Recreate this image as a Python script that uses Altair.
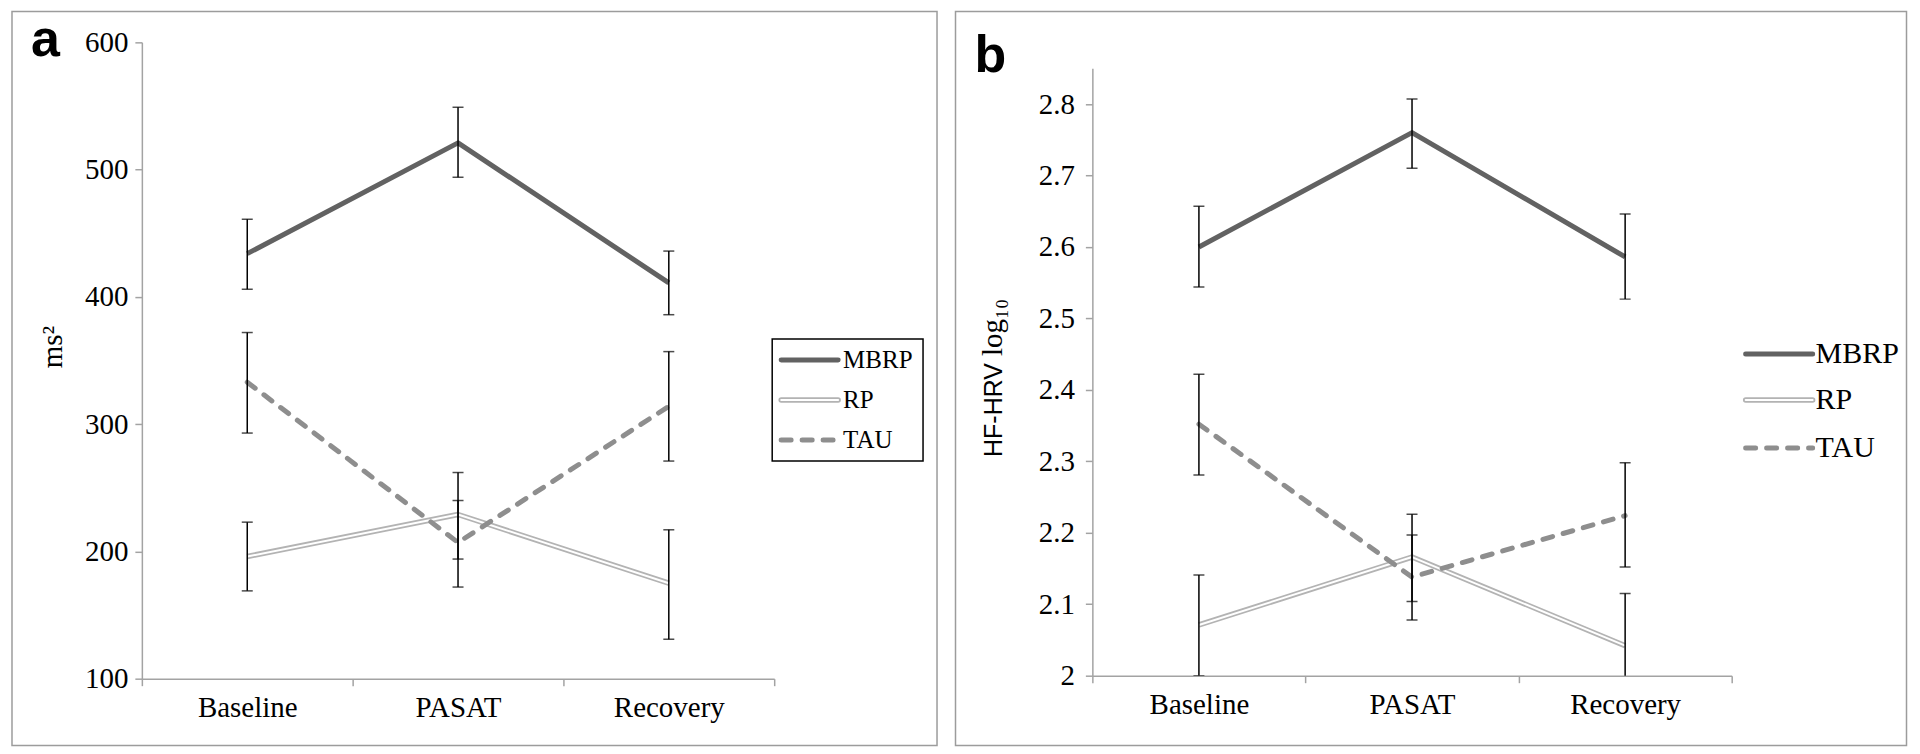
import altair as alt
import pandas as pd

categories = ["Baseline", "PASAT", "Recovery"]
series_names = ["MBRP", "RP", "TAU"]

# Panel a: ms^2
a_mbrp = [434, 521, 411]
a_mbrp_low = [406, 494, 386]
a_mbrp_high = [461, 549, 436]
a_rp = [196, 229, 175]
a_rp_low = [169, 172, 131]
a_rp_high = [223, 262, 217]
a_tau = [333, 207, 314]
a_tau_low = [293, 194, 271]
a_tau_high = [372, 240, 357]
a_ticks = [100, 200, 300, 400, 500, 600]

# Panel b: HF-HRV log10
b_mbrp = [2.600, 2.760, 2.586]
b_mbrp_low = [2.544, 2.710, 2.527]
b_mbrp_high = [2.657, 2.807, 2.646]
b_rp = [2.071, 2.166, 2.042]
b_rp_low = [2.000, 2.104, 1.970]
b_rp_high = [2.141, 2.226, 2.115]
b_tau = [2.352, 2.138, 2.224]
b_tau_low = [2.281, 2.078, 2.152]
b_tau_high = [2.422, 2.197, 2.298]
b_ticks = [2.0, 2.1, 2.2, 2.3, 2.4, 2.5, 2.6, 2.7, 2.8]

SERIF = "Liberation Serif"
SANS = "Liberation Sans"
AXIS_GRAY = "#a3a3a3"
FRAME_GRAY = "#9c9c9c"
C_MBRP = "#626262"
C_RP = "#b3b3b3"
C_TAU = "#8e8e8e"
TAU_DASH = [10, 11]


def make_df(groups):
    rows = []
    for name, (mean, low, high) in zip(series_names, groups):
        for i, cat in enumerate(categories):
            rows.append({"series": name, "category": cat, "idx": i,
                         "value": mean[i], "low": low[i], "high": high[i]})
    return pd.DataFrame(rows)


df_a = make_df([(a_mbrp, a_mbrp_low, a_mbrp_high),
                (a_rp, a_rp_low, a_rp_high),
                (a_tau, a_tau_low, a_tau_high)])
df_b = make_df([(b_mbrp, b_mbrp_low, b_mbrp_high),
                (b_rp, b_rp_low, b_rp_high),
                (b_tau, b_tau_low, b_tau_high)])

one = alt.Data(values=[{"k": 0}])


def panel(df, width, height, ydomain, yrange, yticks, yfmt, ylabpad, clip,
          frame, legend, letter, titles):
    xaxis = alt.Axis(tickBand="extent", labelAngle=0, labelFont=SERIF, labelFontSize=29,
                     labelColor="black", domainColor=AXIS_GRAY, domainWidth=1.5,
                     tickColor=AXIS_GRAY, tickWidth=1.5, tickSize=7, labelPadding=8,
                     grid=False, title=None)
    xenc = alt.X("category:N", sort=categories, bandPosition=0.5,
                 scale=alt.Scale(type="band", paddingInner=0, paddingOuter=0),
                 axis=xaxis)
    sc = dict(domain=ydomain, nice=False, zero=False)
    if yrange is not None:
        sc["range"] = yrange
    yscale = alt.Scale(**sc)
    yaxis = alt.Axis(values=yticks, format=yfmt, labelFont=SERIF, labelFontSize=29,
                     labelColor="black", domainColor=AXIS_GRAY, domainWidth=1.5,
                     tickColor=AXIS_GRAY, tickWidth=1.5, tickSize=7, labelPadding=ylabpad,
                     grid=False, title=None)

    def yf(field):
        return alt.Y(field + ":Q", scale=yscale, axis=yaxis)

    layers = []
    fx0, fx1, fy0, fy1 = frame
    layers.append(alt.Chart(one).mark_rect(fill="transparent", stroke=FRAME_GRAY, strokeWidth=1.5)
                  .encode(x=alt.value(fx0), x2=alt.value(fx1), y=alt.value(fy0), y2=alt.value(fy1)))

    def line(name, **kw):
        return (alt.Chart(df).transform_filter(alt.datum.series == name)
                .mark_line(strokeJoin="round", **kw)
                .encode(x=xenc, y=yf("value"), order="idx:Q"))

    layers.append(line("MBRP", color=C_MBRP, strokeWidth=5))
    layers.append(line("RP", color=C_RP, strokeWidth=5.5))
    layers.append(line("RP", color="white", strokeWidth=2))
    layers.append(line("TAU", color=C_TAU, strokeWidth=5, strokeDash=TAU_DASH, strokeCap="round"))

    layers.append(alt.Chart(df).mark_rule(color="black", strokeWidth=1.5, clip=clip)
                  .encode(x=xenc, y=yf("low"), y2="high:Q"))
    layers.append(alt.Chart(df).mark_tick(orient="horizontal", size=11, thickness=1.5,
                                          color="black", clip=clip)
                  .encode(x=xenc, y=yf("low")))
    layers.append(alt.Chart(df).mark_tick(orient="horizontal", size=11, thickness=1.5,
                                          color="black", clip=clip)
                  .encode(x=xenc, y=yf("high")))

    # legend
    lx0, lx1, ltx, lys, lfs, box = legend
    if box is not None:
        bx0, bx1, by0, by1 = box
        layers.append(alt.Chart(one).mark_rect(fill="white", stroke="black", strokeWidth=1.5)
                      .encode(x=alt.value(bx0), x2=alt.value(bx1), y=alt.value(by0), y2=alt.value(by1)))
    styles = {
        "MBRP": [dict(color=C_MBRP, strokeWidth=5, strokeCap="round")],
        "RP": [dict(color=C_RP, strokeWidth=5.5, strokeCap="round"),
               dict(color="white", strokeWidth=2, strokeCap="round")],
        "TAU": [dict(color=C_TAU, strokeWidth=5, strokeDash=TAU_DASH, strokeCap="round")],
    }
    for name, ly in zip(series_names, lys):
        for st in styles[name]:
            layers.append(alt.Chart(one).mark_rule(**st)
                          .encode(x=alt.value(lx0), x2=alt.value(lx1), y=alt.value(ly)))
        layers.append(alt.Chart(one).mark_text(text=name, align="left", baseline="middle",
                                               font=SERIF, fontSize=lfs, color="black")
                      .encode(x=alt.value(ltx), y=alt.value(ly)))

    # panel letter
    lt, ltxp, ltyp = letter
    layers.append(alt.Chart(one).mark_text(text=lt, align="left", baseline="alphabetic",
                                           font=SANS, fontWeight="bold", fontSize=52,
                                           color="black")
                  .encode(x=alt.value(ltxp), y=alt.value(ltyp)))
    # axis title pieces
    for txt, font, fs, tx, ty, align, base in titles:
        layers.append(alt.Chart(one).mark_text(text=txt, align=align, baseline=base,
                                               font=font, fontSize=fs, angle=270,
                                               color="black")
                      .encode(x=alt.value(tx), y=alt.value(ty)))

    return alt.layer(*layers).properties(width=width, height=height)


left = panel(df_a, 633, 637, [100, 600], None, a_ticks, "d", 7, False,
             frame=(-130, 796, -31, 704),
             legend=(640, 697, 702, [318, 358, 398], 25, (631, 782, 297, 419)),
             letter=("a", -111, 14),
             titles=[("ms²", SERIF, 29, -89, 305, "center", "middle")])

right = panel(df_b, 640, 634, [2.0, 2.85], [634, 26], b_ticks, "~g", 11, True,
              frame=(-137, 815, -31, 704),
              legend=(654, 721, 724, [312, 358, 406], 30, None),
              letter=("b", -118, 30),
              titles=[("HF-HRV", SANS, 25, -90, 415, "left", "alphabetic"),
                      ("log₁₀", SERIF, 29, -90, 314, "left", "alphabetic")])

chart = (alt.hconcat(left, right, spacing=14.5)
         .properties(padding={"left": 2, "top": 1, "right": 4, "bottom": 4},
                     background="white")
         .configure_view(stroke="transparent"))

chart.save("out.html", embed_options={"renderer": "svg", "actions": False})
